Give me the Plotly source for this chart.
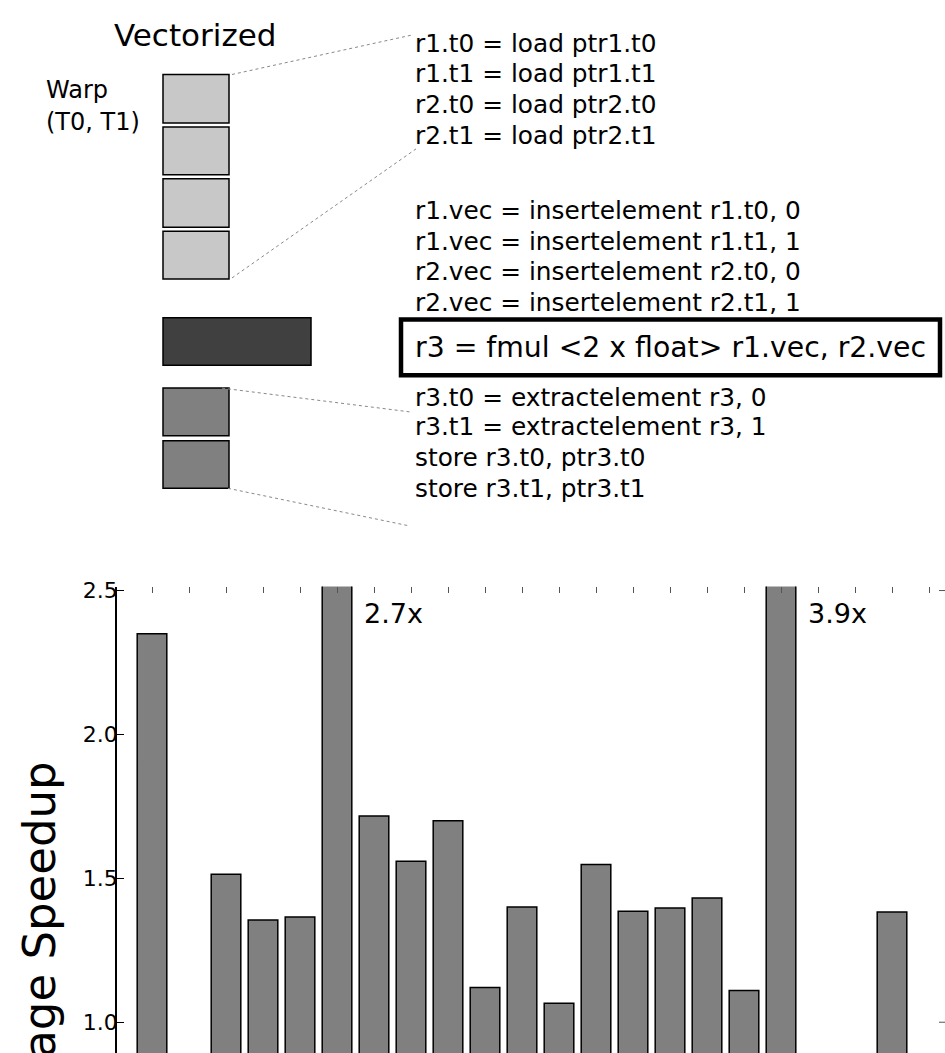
import plotly.graph_objects as go

# ---------------- data ----------------
slots = list(range(22))
speedup = [2.35, None, 1.514, 1.355, 1.366, 2.7, 1.717, 1.559, 1.70, 1.121,
           1.40, 1.066, 1.548, 1.386, 1.397, 1.432, 1.11, 3.9, None, None,
           1.383, None]
y_ticks = [1.0, 1.5, 2.0, 2.5]
y_tick_labels = ["1.0", "1.5", "2.0", "2.5"]
y_title = "Average Speedup"
off_scale = [(5, "2.7x"), (17, "3.9x")]

title_text = "Vectorized"
warp_lines = ["Warp", "(T0, T1)"]
load_lines = ["r1.t0 = load ptr1.t0", "r1.t1 = load ptr1.t1",
              "r2.t0 = load ptr2.t0", "r2.t1 = load ptr2.t1"]
insert_lines = ["r1.vec = insertelement r1.t0, 0",
                "r1.vec = insertelement r1.t1, 1",
                "r2.vec = insertelement r2.t0, 0",
                "r2.vec = insertelement r2.t1, 1"]
fmul_line = "r3 = fmul <2 x float> r1.vec, r2.vec"
extract_lines = ["r3.t0 = extractelement r3, 0",
                 "r3.t1 = extractelement r3, 1",
                 "store r3.t0, ptr3.t0",
                 "store r3.t1, ptr3.t1"]

FONT = "DejaVu Sans"
W, H = 945, 1053
DY = 6  # vertical calibration of the pixel-space diagram axes

fig = go.Figure()

fig.add_trace(go.Bar(
    x=slots, y=speedup, width=0.8,
    marker=dict(color="#808080", line=dict(color="black", width=1.5)),
    xaxis="x", yaxis="y", showlegend=False, hoverinfo="skip",
))
# invisible trace for the pixel-space diagram axes
fig.add_trace(go.Scatter(x=[], y=[], xaxis="x2", yaxis="y2",
                         showlegend=False, hoverinfo="skip"))

# ---------------- diagram (pixel coordinates on x2/y2) ----------------
shapes = []
def rect(x0, y0, x1, y1, fill, lw=1.5):
    shapes.append(dict(type="rect", xref="x2", yref="y2", x0=x0, y0=y0,
                       x1=x1, y1=y1, fillcolor=fill,
                       line=dict(color="black", width=lw)))

for (y0, y1) in [(73, 122), (126, 174), (178, 227), (231, 279)]:
    rect(163, y0, 229, y1, "#c8c8c8")
rect(163, 318, 311, 366, "#404040")
for (y0, y1) in [(389, 437), (442, 490)]:
    rect(163, y0, 229, y1, "#808080")
rect(401, 320, 940, 376, "rgba(0,0,0,0)", lw=4.5)

for (x0, y0, x1, y1) in [(232, 73, 413, 33), (232, 278, 416, 148),
                         (222, 389, 410, 413), (228, 490, 410, 528)]:
    shapes.append(dict(type="line", xref="x2", yref="y2", x0=x0, y0=y0,
                       x1=x1, y1=y1,
                       line=dict(color="#888888", width=1, dash="dot")))

# small inward ticks on the right edge of the bar chart
for yv in [1.0, 2.5]:
    shapes.append(dict(type="line", xref="paper", yref="y", x0=(W - 6) / W,
                       x1=1.0, y0=yv, y1=yv,
                       line=dict(color="#555555", width=1)))

annotations = []
def txt(x, y, s, size, xanchor="left", angle=0):
    annotations.append(dict(xref="x2", yref="y2", x=x, y=y, text=s,
                            showarrow=False, xanchor=xanchor,
                            yanchor="middle", textangle=angle,
                            font=dict(family=FONT, size=size, color="black")))

txt(195, 33, title_text, 31, xanchor="center")
for s, yy in zip(warp_lines, [89, 121]):
    txt(44, yy, s, 24)
for s, yy in zip(load_lines, [42, 72, 103, 134]):
    txt(413, yy, s, 24.8)
for s, yy in zip(insert_lines, [210, 241, 272, 303]):
    txt(413, yy, s, 24.8)
txt(413, 348, fmul_line, 28.3)
for s, yy in zip(extract_lines, [398, 428, 459, 490]):
    txt(413, yy, s, 24.8)

# y axis title (pixel placement)
txt(40, 966, y_title, 45, xanchor="center", angle=-90)

# off-scale labels in data coordinates
for slot, label in off_scale:
    annotations.append(dict(xref="x", yref="y", x=slot + 0.68, y=2.42,
                            text=label, showarrow=False, xanchor="left",
                            yanchor="middle",
                            font=dict(family=FONT, size=27, color="black")))

# ---------------- layout ----------------
left_px, top_px = 117, 583
pitch, c0 = 37.0, 152.0
fig.update_layout(
    width=W, height=H,
    margin=dict(l=0, r=0, t=0, b=0),
    paper_bgcolor="white", plot_bgcolor="rgba(0,0,0,0)",
    font=dict(family=FONT, color="black"),
    shapes=shapes, annotations=annotations,
    xaxis=dict(domain=[left_px / W, 1.0],
               range=[(left_px - c0) / pitch, (W - c0) / pitch],
               side="top", anchor="y", tickvals=slots, ticks="inside",
               ticklen=6, tickwidth=1, tickcolor="#555555",
               showticklabels=False, showline=False, showgrid=False,
               zeroline=False),
    yaxis=dict(domain=[0, (H - top_px) / H], anchor="x",
               range=[1.0 - (H - 1022) / 290.0, 1.0 + (1022 - top_px) / 290.0],
               tickvals=y_ticks, ticktext=y_tick_labels, ticks="inside",
               ticklen=7, tickwidth=1, tickcolor="black",
               ticklabelstandoff=-7,
               tickfont=dict(family=FONT, size=22, color="black"),
               showline=True, linecolor="black", linewidth=1.5,
               showgrid=False, zeroline=False),
    xaxis2=dict(domain=[0, 1], range=[0, W], anchor="y2", visible=False,
                fixedrange=True),
    yaxis2=dict(domain=[0, 1], range=[H + DY, DY], anchor="x2", visible=False,
                fixedrange=True),
)

fig.write_html("out.html", config={"displayModeBar": False},
               post_script="document.body.style.margin='0';"
                           "document.body.style.overflow='hidden';")
